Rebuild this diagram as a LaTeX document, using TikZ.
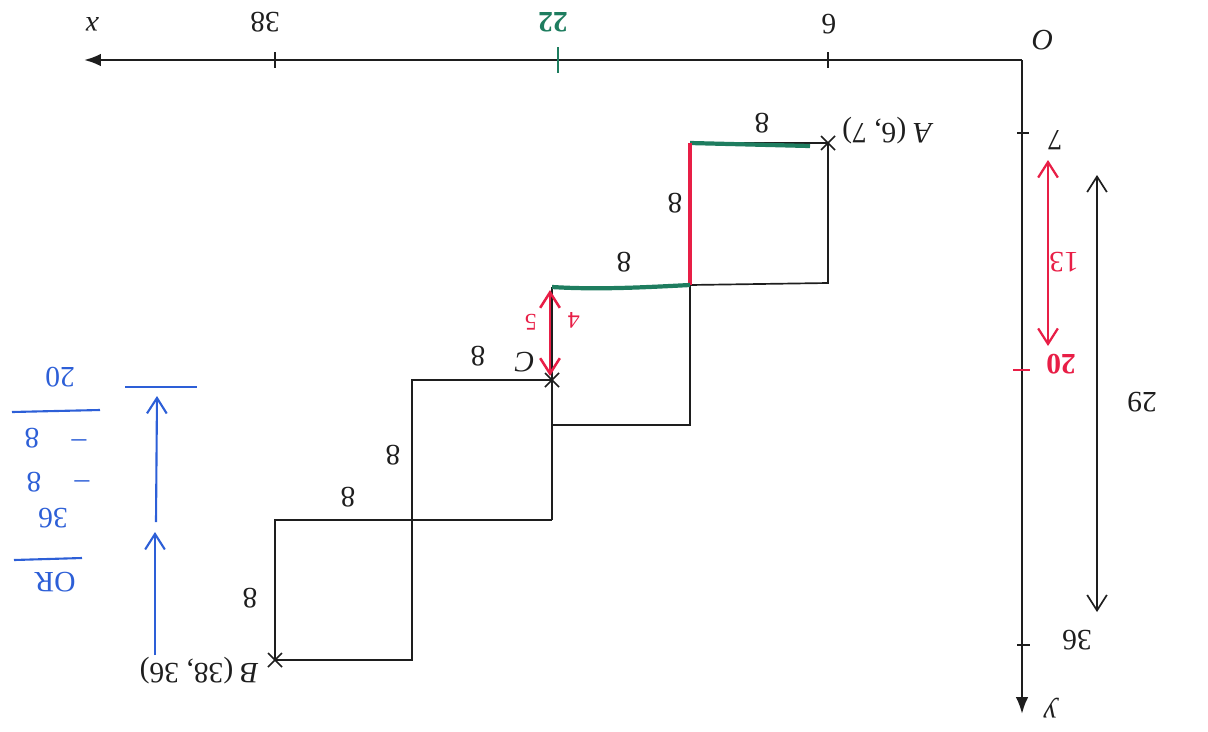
\documentclass[tikz,border=0pt]{standalone}
\usepackage{fontspec}
\setmainfont{Liberation Serif}
\usetikzlibrary{arrows.meta,calc}
\definecolor{pen}{RGB}{30,30,30}
\definecolor{grn}{RGB}{30,125,95}
\definecolor{rd}{RGB}{232,30,70}
\definecolor{bl}{RGB}{45,95,215}
\begin{document}
\begin{tikzpicture}[x=0.025cm,y=-0.025cm,
  lbl/.style={rotate=180,inner sep=0pt,text=pen,font=\fontsize{21}{25}\selectfont},
  hw/.style={rotate=180,inner sep=0pt,text=pen,font=\fontsize{21}{24}\selectfont},
  axis/.style={draw=pen,line width=1.8pt,-{Latex[length=12pt,width=9pt]}},
  edge/.style={draw=pen,line width=1.2pt},
  tick/.style={draw=pen,line width=1.2pt},
  dim/.style={line width=1.2pt,{Straight Barb[length=11pt,width=14pt]}-{Straight Barb[length=11pt,width=14pt]}},
  barb/.style={line width=1.5pt,-{Straight Barb[length=11pt,width=14pt]}},
  hl/.style={line width=3pt}]
\useasboundingbox (0,0) rectangle (1208,731);
% axes
\coordinate (O) at (1022,60);
\coordinate (xend) at (84,60);
\coordinate (yend) at (1022,714);
\draw[axis] (O) -- (xend);
\draw[axis] (O) -- (yend);
\node[lbl] (Olbl) at (1043,40) {\textit{O}};
\node[lbl] (xlbl) at (92,24) {\textit{x}};
\node[lbl] (ylbl) at (1050,708) {\textit{y}};
% x ticks
\draw[tick] (828,52) -- (828,68);
\draw[draw=grn,line width=2pt] (558,47) -- (558,73);
\draw[tick] (275,52) -- (275,68);
\node[hw] (t6) at (829,24) {6};
\node[hw,text=grn] (t22) at (553,22) {\textbf{22}};
\node[hw] (t38) at (265,22) {38};
% y ticks
\draw[tick] (1017,133) -- (1029,133);
\draw[draw=rd,line width=1.5pt] (1013,370) -- (1030,370);
\draw[tick] (1017,645) -- (1030,645);
\node[hw] (t7) at (1055,140) {7};
\node[hw,text=rd] (t20) at (1061,364) {\textbf{20}};
\node[hw] (t36) at (1077,640) {36};
% dimension arrows
\coordinate (r1) at (1048,160);
\coordinate (r2) at (1048,346);
\draw[dim,draw=rd,line width=1.6pt] (r1) -- (r2);
\node[hw,text=rd] (t13) at (1064,262) {13};
\coordinate (k1) at (1097,175);
\coordinate (k2) at (1097,612);
\draw[dim,draw=pen] (k1) -- (k2);
\node[hw] (t29) at (1142,402) {29};
% staircase corners
\coordinate (A) at (828,143);
\coordinate (P1) at (690,143);
\coordinate (P2) at (828,283);
\coordinate (P3) at (690,285);
\coordinate (P4) at (552,287);
\coordinate (P5) at (690,425);
\coordinate (P6) at (552,425);
\coordinate (C) at (552,380);
\coordinate (P7) at (412,380);
\coordinate (P8) at (552,520);
\coordinate (P9) at (412,520);
\coordinate (P10) at (275,520);
\coordinate (B) at (275,660);
\coordinate (P11) at (412,660);
\draw[edge] (A) -- (P2) -- (P3);
\draw[edge] (P1) -- (P5) -- (P6);
\draw[edge] (P4) -- (P8);
\draw[edge] (C) -- (P7) -- (P11) -- (B) -- (P10) -- (P8);
\draw[edge] (P1) -- (A);
% highlights
\draw[hl,draw=grn] (P1) -- (810,146);
\draw[hl,draw=rd] (P1) -- (P3);
\draw[hl,draw=grn] (P4) .. controls (600,290) and (650,287) .. (P3);
\coordinate (c1) at (550,290);
\coordinate (c2) at (550,376);
\draw[dim,draw=rd,line width=1.8pt] (c1) -- (c2);
\node[hw,text=rd,font=\fontsize{17}{20}\selectfont] (t5) at (531,322) {5};
\node[hw,text=rd,font=\fontsize{17}{20}\selectfont] (t4) at (574,320) {4};
% crosses
\foreach \p in {A,B,C}{
  \draw[pen,line width=1.2pt] ($(\p)+(-7,-7)$) -- ($(\p)+(7,7)$);
  \draw[pen,line width=1.2pt] ($(\p)+(-7,7)$) -- ($(\p)+(7,-7)$);
}
\node[lbl,anchor=east] (Albl) at (842,131) {\textit{A} (6, 7)};
\node[lbl,anchor=west] (Blbl) at (259,671) {\textit{B} (38, 36)};
\node[lbl] (Clbl) at (525,362) {\textit{C}};
% side labels 8
\node[hw] (e1) at (762,123) {8};
\node[hw] (e2) at (675,203) {8};
\node[hw] (e3) at (624,262) {8};
\node[hw] (e4) at (478,356) {8};
\node[hw] (e5) at (393,455) {8};
\node[hw] (e6) at (348,497) {8};
\node[hw] (e7) at (250,598) {8};
% blue part
\coordinate (b0) at (155,655);
\coordinate (b1) at (155,532);
\coordinate (b2) at (156,522);
\coordinate (b3) at (157,396);
\draw[barb,draw=bl] (b0) -- (b1);
\draw[barb,draw=bl] (b2) -- (b3);
\draw[draw=bl,line width=1.5pt] (125,387) -- (197,387);
\node[hw,text=bl] (s20) at (60,377) {20};
\draw[draw=bl,line width=1.5pt] (12,412) -- (100,410);
\node[hw,text=bl] (s8a) at (32,438) {8};
\node[hw,text=bl] (m1) at (79,437) {--};
\node[hw,text=bl] (s8b) at (34,482) {8};
\node[hw,text=bl] (m2) at (82,478) {--};
\node[hw,text=bl] (s36) at (53,518) {36};
\draw[draw=bl,line width=1.5pt] (14,560) -- (82,558);
\node[hw,text=bl] (sOR) at (55,582) {OR};
\end{tikzpicture}
\end{document}
